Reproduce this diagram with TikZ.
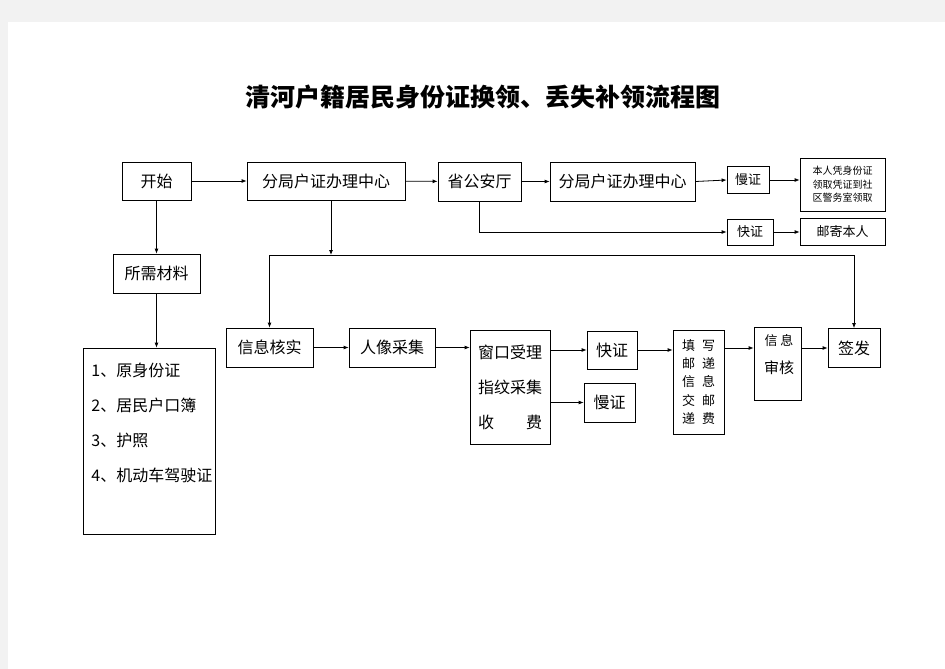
\documentclass[tikz,border=0pt]{standalone}
\usepackage{fontspec}
\newfontfamily\cjk{Noto Sans CJK SC}
\usepackage{tikz}
\usetikzlibrary{arrows.meta, positioning}

\begin{document}
\begin{tikzpicture}[x=1pt, y=-1pt, >={Latex[length=5pt, width=4pt]},
	box/.style = {draw, line width=0.8pt, rectangle, inner sep=0pt, align=center, font=\cjk\fontsize{16}{19}\selectfont},
	small/.style = {font=\cjk\fontsize{13}{16}\selectfont},
	line width=0.8pt]
		\fill[black!5] (0,0) rectangle (945,669);
		\fill[white] (8,22) rectangle (945,669);
		\useasboundingbox (0,0) rectangle (945,669);

		\node[font=\cjk\bfseries\fontsize{25}{28}\selectfont] (title) at (483,97) {清河户籍居民身份证换领、丢失补领流程图};

		% top row
		\node[box, minimum width=69, minimum height=38] (start) at (156.5,181) {开始};
		\node[box, minimum width=158, minimum height=38] (bureauA) at (326,181) {分局户证办理中心};
		\node[box, minimum width=83, minimum height=39] (province) at (479.5,181.5) {省公安厅};
		\node[box, minimum width=145, minimum height=39] (bureauB) at (622.5,181.5) {分局户证办理中心};
		\node[box, small, minimum width=42, minimum height=27] (slowTop) at (748,180) {慢证};
		\node[box, minimum width=85, minimum height=53, font=\cjk\fontsize{10}{13.5}\selectfont] (pickup) at (842.5,184.5) {本人凭身份证\\领取凭证到社\\区警务室领取};
		\node[box, small, minimum width=46, minimum height=26] (fastTop) at (750,232) {快证};
		\node[box, small, minimum width=85, minimum height=27] (mail) at (842.5,232) {邮寄本人};

		% left column
		\node[box, minimum width=87, minimum height=39] (needs) at (156.5,273.5) {所需材料};
		\node[box, minimum width=132, minimum height=186] (docs) at (149,441) {};
		\node[anchor=north west, align=left, inner sep=0pt, font=\cjk\fontsize{16}{35}\selectfont] (doclist) at (91,363) {1、原身份证\\2、居民户口簿\\3、护照\\4、机动车驾驶证};

		% process row
		\coordinate (split) at (331,255);
		\node[box, minimum width=87, minimum height=39] (check) at (269.5,347.5) {信息核实};
		\node[box, minimum width=86, minimum height=39] (portrait) at (392,347.5) {人像采集};
		\node[box, minimum width=80, minimum height=114, font=\cjk\fontsize{16}{35}\selectfont] (window) at (510,387) {窗口受理\\指纹采集\\收\hspace{32pt}费};
		\node[box, minimum width=50, minimum height=38] (fastMid) at (612,350) {快证};
		\node[box, minimum width=51, minimum height=39] (slowMid) at (609.5,402.5) {慢证};
		\node[box, small, minimum width=51, minimum height=104, font=\cjk\fontsize{13}{18.3}\selectfont] (fillin) at (698.5,382) {填\hspace{7pt}写\\邮\hspace{7pt}递\\信\hspace{7pt}息\\交\hspace{7pt}邮\\递\hspace{7pt}费};
		\node[box, minimum width=47, minimum height=73] (review) at (777.5,363.5) {};
		\node[small, inner sep=0pt] (reviewA) at (779,341) {信\hspace{3pt}息};
		\node[inner sep=0pt, font=\cjk\fontsize{15}{18}\selectfont] (reviewB) at (779,368) {审核};
		\node[box, minimum width=52, minimum height=39] (issue) at (854,348) {签发};

		\path[->]
		(start)    edge (bureauA)
		(start)    edge (needs)
		(needs.south) edge (needs.south |- docs.north)
		(bureauA)  edge (province)
		(province) edge (bureauB)
		(bureauB.east) edge (slowTop.west)
		(slowTop.east) edge (slowTop.east -| pickup.west)
		(fastTop)  edge (mail)
		(check)    edge (portrait)
		(portrait.east) edge (portrait.east -| window.west)
		(window.east |- fastMid) edge (fastMid)
		(window.east |- slowMid) edge (slowMid)
		(fastMid.east) edge (fastMid.east -| fillin.west)
		(fillin.east |- issue) edge (review.west |- issue)
		(review.east |- issue) edge (issue)
		;
		\draw[->] (province.south) |- (fastTop.west);
		\draw[->] (bureauA.south -| split) -- (split);
		\draw[->] (split) -| (check.north);
		\draw[->] (split) -| (issue.north);
\end{tikzpicture}
\end{document}
